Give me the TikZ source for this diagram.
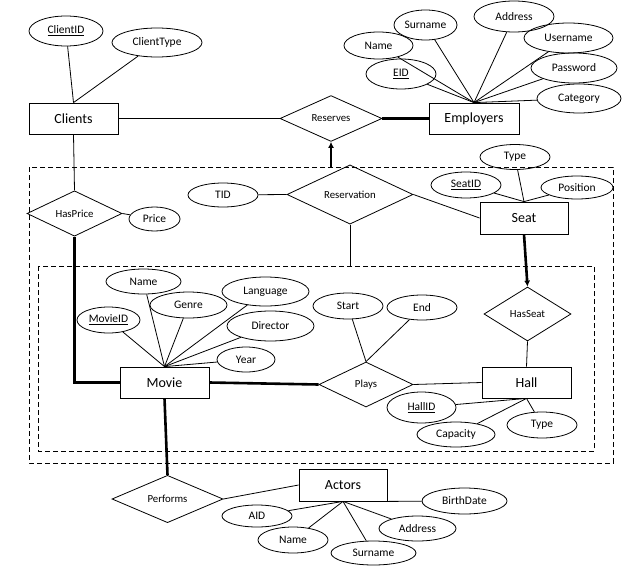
\documentclass[tikz,border=0pt]{standalone}
\usepackage{fontspec}
\setmainfont{Carlito}
\usetikzlibrary{shapes.geometric,arrows.meta}
\tikzset{
  ent/.style={draw, rectangle, inner sep=0pt, line width=0.8pt, font=\fontsize{14}{16}\selectfont},
  rel/.style={draw, diamond, inner sep=0pt, line width=0.8pt, font=\fontsize{10.8}{12}\selectfont},
  attr/.style={draw, ellipse, inner sep=0pt, line width=0.8pt, font=\fontsize{11.5}{13}\selectfont},
  link/.style={line width=0.8pt},
  heavy/.style={line width=2.6pt},
  grp/.style={line width=0.8pt, dash pattern=on 5pt off 3pt},
  arr/.style={-{Latex[length=6pt,width=6pt]}}
}
\begin{document}
\begin{tikzpicture}[x=1pt,y=-1pt]
\useasboundingbox (0,0) rectangle (636,567);
% groups
\draw[grp] (29,167) rectangle (613,463);
\draw[grp] (38,266) rectangle (594,451);
\coordinate (grpTop) at (331,167);
\coordinate (innerTop) at (350,266);
% entities
\node[ent, minimum width=89pt, minimum height=31pt] (clients) at (73.5,118.5) {Clients};
\node[ent, minimum width=90pt, minimum height=31pt] (employers) at (474,118.5) {Employers};
\node[ent, minimum width=88pt, minimum height=32pt] (seat) at (524,218) {Seat};
\node[ent, minimum width=89pt, minimum height=31pt] (movie) at (164.5,382.5) {Movie};
\node[ent, minimum width=89pt, minimum height=31pt] (hall) at (526.5,382.5) {Hall};
\node[ent, minimum width=88pt, minimum height=32pt] (actors) at (343,485) {Actors};
% relationships
\node[rel, minimum width=102pt, minimum height=39pt] (reserves) at (331,118.5) {Reserves};
\node[rel, minimum width=95pt, minimum height=45pt] (hasprice) at (74.5,213.5) {HasPrice};
\node[rel, minimum width=126pt, minimum height=45pt] (reservation) at (350,194.5) {Reservation};
\node[rel, minimum width=87pt, minimum height=54pt] (hasseat) at (527.5,314) {HasSeat};
\node[rel, minimum width=94pt, minimum height=45pt] (plays) at (366,384.5) {Plays};
\node[rel, minimum width=111pt, minimum height=44pt] (performs) at (167.5,499) {Performs};
% attributes
\node[attr, minimum width=74pt, minimum height=30pt] (clientid) at (66,31) {\underline{ClientID}};
\node[attr, minimum width=90pt, minimum height=29pt] (clienttype) at (157,42.5) {ClientType};
\node[attr, minimum width=69pt, minimum height=27pt] (ename) at (378.5,45.5) {Name};
\node[attr, minimum width=63pt, minimum height=30pt] (esurname) at (425.5,25) {Surname};
\node[attr, minimum width=80pt, minimum height=31pt] (eaddress) at (514,16.5) {Address};
\node[attr, minimum width=89pt, minimum height=30pt] (eusername) at (568.5,38) {Username};
\node[attr, minimum width=86pt, minimum height=30pt] (epassword) at (574,68) {Password};
\node[attr, minimum width=84pt, minimum height=29pt] (ecategory) at (579,98.5) {Category};
\node[attr, minimum width=70pt, minimum height=30pt] (eid) at (401,74) {\underline{EID}};
\node[attr, minimum width=51pt, minimum height=24pt] (price) at (154.5,219) {Price};
\node[attr, minimum width=70pt, minimum height=24pt] (tid) at (223,195) {TID};
\node[attr, minimum width=70pt, minimum height=26pt] (seatid) at (466,185) {\underline{SeatID}};
\node[attr, minimum width=70pt, minimum height=25pt] (stype) at (515,157) {Type};
\node[attr, minimum width=72pt, minimum height=23pt] (sposition) at (577,187.5) {Position};
\node[attr, minimum width=75pt, minimum height=25pt] (mname) at (143.5,281.5) {Name};
\node[attr, minimum width=77pt, minimum height=26pt] (mgenre) at (188.5,305) {Genre};
\node[attr, minimum width=87pt, minimum height=29pt] (mlanguage) at (265.5,291.5) {Language};
\node[attr, minimum width=63pt, minimum height=26pt] (mmovieid) at (108.5,320) {\underline{MovieID}};
\node[attr, minimum width=87pt, minimum height=30pt] (mdirector) at (270.5,326) {Director};
\node[attr, minimum width=58pt, minimum height=25pt] (myear) at (246,359.5) {Year};
\node[attr, minimum width=70pt, minimum height=26pt] (pstart) at (348,306) {Start};
\node[attr, minimum width=70pt, minimum height=25pt] (pend) at (422,307.5) {End};
\node[attr, minimum width=69pt, minimum height=31pt] (hallid) at (421.5,407.5) {\underline{HallID}};
\node[attr, minimum width=78pt, minimum height=25pt] (hcapacity) at (456,434.5) {Capacity};
\node[attr, minimum width=70pt, minimum height=26pt] (htype) at (542,425) {Type};
\node[attr, minimum width=85pt, minimum height=26pt] (birthdate) at (464.5,501) {BirthDate};
\node[attr, minimum width=70pt, minimum height=22pt] (aid) at (257,516) {AID};
\node[attr, minimum width=70pt, minimum height=26pt] (aname) at (293,540) {Name};
\node[attr, minimum width=85pt, minimum height=24pt] (asurname) at (373.5,553) {Surname};
\node[attr, minimum width=77pt, minimum height=25pt] (aaddress) at (417.5,528.5) {Address};
% attribute links
\foreach \a in {clientid,clienttype} \draw[link] (\a) -- (clients.north);
\foreach \a in {ename,esurname,eaddress,eusername,epassword,ecategory,eid} \draw[link] (\a) -- (employers.north);
\foreach \a in {seatid,stype,sposition} \draw[link] (\a) -- (seat.north);
\foreach \a in {mname,mgenre,mlanguage,mmovieid,mdirector,myear} \draw[link] (\a) -- (movie.north);
\foreach \a in {pstart,pend} \draw[link] (\a) -- (plays.north);
\foreach \a in {hallid,hcapacity,htype} \draw[link] (\a) -- (hall.south);
\foreach \a in {aid,aname,asurname,aaddress} \draw[link] (\a) -- (actors.south);
\draw[link] (actors.south east) -- (birthdate);
\draw[link] (hasprice.east) -- (price);
\draw[link] (tid) -- (reservation.west);
% relationship links
\draw[link] (clients.east) -- (reserves.west);
\draw[heavy] (reserves.east) -- (employers.west);
\draw[heavy, arr] (grpTop) -- (reserves.south);
\draw[link] (clients.south) -- (hasprice.north);
\draw[heavy] (hasprice.south) |- (movie.west);
\draw[link] (reservation.east) -- (seat.west);
\draw[link] (reservation.south) -- (innerTop);
\draw[heavy, arr] (seat.south) -- (hasseat.north);
\draw[link] (hasseat.south) -- (hall.north);
\draw[heavy] (movie.east) -- (plays.west);
\draw[link] (plays.east) -- (hall.west);
\draw[heavy] (movie.south) -- (performs.north);
\draw[link] (performs.east) -- (actors.west);
\end{tikzpicture}
\end{document}
